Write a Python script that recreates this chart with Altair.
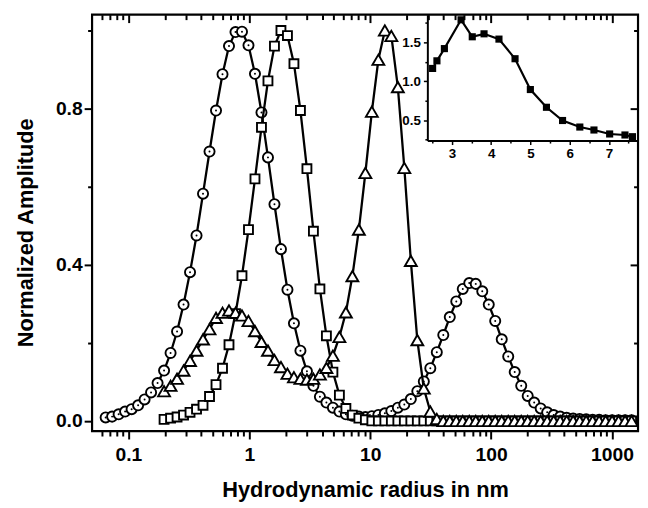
import altair as alt
import pandas as pd

FONT = "Liberation Sans"

# hydrodynamic radius grid (nm)
radius_nm = [0.0649, 0.0734, 0.0831, 0.0940, 0.1064, 0.1204, 0.1362, 0.1541, 0.1744, 0.1974,
             0.2234, 0.2528, 0.2860, 0.3236, 0.3662, 0.4144, 0.4690, 0.5307, 0.6005, 0.6796,
             0.7691, 0.8703, 0.9849, 1.1145, 1.2612, 1.4272, 1.6151, 1.8277, 2.0683, 2.3405,
             2.6485, 2.9972, 3.3915, 3.838, 4.343, 4.915, 5.562, 6.294, 7.122, 8.060,
             9.120, 10.32, 11.68, 13.22, 14.96, 16.93, 19.15, 21.68, 24.53, 27.76,
             31.41, 35.54, 40.22, 45.52, 51.51, 58.29, 65.96, 74.65, 84.47, 95.6,
             108.1, 122.4, 138.5, 156.7, 177.4, 200.7, 227.1, 257.0, 290.9, 329.2,
             372.4, 421.5, 477.0, 539.7, 610.8, 691.2, 782.2, 885.1, 1001.4, 1133,
             1282, 1451]

circles = [0.009, 0.011, 0.017, 0.024, 0.030, 0.040, 0.055, 0.073, 0.097, 0.129,
           0.174, 0.229, 0.298, 0.381, 0.475, 0.582, 0.690, 0.795, 0.888, 0.960,
           0.996, 0.997, 0.962, 0.889, 0.790, 0.675, 0.555, 0.440, 0.336, 0.250,
           0.180, 0.127, 0.090, 0.062, 0.047, 0.034, 0.024, 0.017, 0.013, 0.011,
           0.010, 0.012, 0.0154, 0.0195, 0.0253, 0.034, 0.042, 0.056, 0.076, 0.101,
           0.135, 0.176, 0.220, 0.266, 0.306, 0.338, 0.353, 0.351, 0.332, 0.298,
           0.256, 0.209, 0.165, 0.125, 0.090, 0.064, 0.047, 0.032, 0.022, 0.015,
           0.011, 0.008, 0.006, 0.005, 0.004, 0.003, 0.003, 0.002, 0.002, 0.002,
           0.002, 0.002]

squares = [None] * 9 + [
           0.004, 0.007, 0.010, 0.015, 0.022, 0.030, 0.040, 0.0625, 0.093, 0.135,
           0.195, 0.275, 0.372, 0.490, 0.620, 0.752, 0.871, 0.960, 1.000, 0.987,
           0.915, 0.795, 0.646, 0.486, 0.338, 0.218, 0.125, 0.066, 0.032, 0.015,
           0.007, 0.003, 0.0, 0.0, 0.0, 0.0, 0.0, 0.0, 0.0, 0.0,
           0.0, 0.0, 0.0, 0.0, 0.0, 0.0, 0.0, 0.0, 0.0, 0.0,
           0.0, 0.0, 0.0, 0.0, 0.0, 0.0, 0.0, 0.0, 0.0, 0.0,
           0.0, 0.0, 0.0, 0.0, 0.0, 0.0, 0.0, 0.0, 0.0, 0.0,
           0.0, 0.0, 0.0]

triangles = [None] * 9 + [
           0.076, 0.090, 0.108, 0.129, 0.154, 0.180, 0.209, 0.235, 0.264, 0.277,
           0.283, 0.277, 0.270, 0.256, 0.230, 0.2025, 0.180, 0.156, 0.138, 0.121,
           0.112, 0.108, 0.106, 0.108, 0.119, 0.136, 0.167, 0.215, 0.278, 0.371,
           0.490, 0.635, 0.792, 0.925, 1.000, 0.986, 0.855, 0.648, 0.410, 0.207,
           0.083, 0.024, 0.005, 0.0, 0.0, 0.0, 0.0, 0.0, 0.0, 0.0,
           0.0, 0.0, 0.0, 0.0, 0.0, 0.0, 0.0, 0.0, 0.0, 0.0,
           0.0, 0.0, 0.0, 0.0, 0.0, 0.0, 0.0, 0.0, 0.0, 0.0,
           0.0, 0.0, 0.0]

inset_x = [2.51, 2.62, 2.81, 3.235, 3.52, 3.82, 4.20, 4.61, 5.00, 5.41, 5.82, 6.26, 6.62, 7.02, 7.41, 7.60]
inset_y = [1.165, 1.263, 1.42, 1.79, 1.572, 1.61, 1.542, 1.29, 0.894, 0.666, 0.496, 0.412, 0.374, 0.323, 0.31, 0.288]

x_ticks = [0.06, 0.07, 0.08, 0.09,
           0.1, 0.2, 0.3, 0.4, 0.5, 0.6, 0.7, 0.8, 0.9,
           1, 2, 3, 4, 5, 6, 7, 8, 9,
           10, 20, 30, 40, 50, 60, 70, 80, 90,
           100, 200, 300, 400, 500, 600, 700, 800, 900,
           1000]
y_ticks = [0.0, 0.2, 0.4, 0.6, 0.8, 1.0]
inset_x_ticks = [2.5, 3, 3.5, 4, 4.5, 5, 5.5, 6, 6.5, 7, 7.5]
inset_y_ticks = [0.25, 0.5, 0.75, 1.0, 1.25, 1.5, 1.75]

W, H = 552, 421


def series_df(vals):
    rows = [(r, v) for r, v in zip(radius_nm, vals) if v is not None]
    return pd.DataFrame(rows, columns=["r", "a"])


df_c = series_df(circles)
df_s = series_df(squares)
df_t = series_df(triangles)
df_in = pd.DataFrame({"x": inset_x, "y": inset_y})

MAJX = "abs(log(datum.value)/LN10 - round(log(datum.value)/LN10)) < 0.01"
MAJY = "abs(datum.value*2.5 - round(datum.value*2.5)) < 0.01"
MAJIX = "abs(datum.value - round(datum.value)) < 0.01"
MAJIY = "abs(datum.value*2 - round(datum.value*2)) < 0.01"

xscale = alt.Scale(type="log", domain=[0.0501, 1640], nice=False)
yscale = alt.Scale(domain=[-0.026, 1.0405], nice=False, zero=False)

x_axis = alt.Axis(orient="bottom", values=x_ticks, domain=False, grid=False,
                  tickColor="black", tickWidth=2,
                  tickSize={"condition": {"test": MAJX, "value": 8}, "value": 5},
                  format="~g", labelExpr=f"({MAJX}) ? datum.label : ''",
                  labelFont=FONT, labelFontSize=19.5, labelFontWeight="bold",
                  labelColor="black", labelPadding=7, labelOverlap=False, labelFlush=False,
                  title="Hydrodynamic radius in nm", titleFont=FONT, titleFontSize=22,
                  titleFontWeight="bold", titleColor="black",
                  titleBaseline="alphabetic", titleY=66, titleX=W / 2)
y_axis = alt.Axis(orient="left", values=y_ticks, domain=False, grid=False,
                  tickColor="black", tickWidth=2,
                  tickSize={"condition": {"test": MAJY, "value": 8}, "value": 4.5},
                  labelExpr=f"({MAJY}) ? format(datum.value, '.1f') : ''",
                  labelFont=FONT, labelFontSize=19.5, labelFontWeight="bold",
                  labelColor="black", labelPadding=2, labelOverlap=False, labelFlush=False,
                  title="Normalized Amplitude", titleFont=FONT, titleFontSize=22,
                  titleFontWeight="bold", titleColor="black",
                  titleBaseline="alphabetic", titleX=-60, titleY=220, titleAngle=270)

X = alt.X("r:Q", scale=xscale, axis=x_axis)
Y = alt.Y("a:Q", scale=yscale, axis=y_axis)

LW = 2.3
MSW = 1.9


def line(df):
    return alt.Chart(df).mark_line(color="black", strokeWidth=LW).encode(x=X, y=Y)


c_pts = alt.Chart(df_c).mark_point(shape="circle", size=105, filled=True, fill="white",
                                   stroke="black", strokeWidth=MSW, opacity=1).encode(x=X, y=Y)
c_dot = alt.Chart(df_c).mark_point(shape="circle", size=4, filled=True, color="black",
                                   opacity=1).encode(x=X, y=Y)
s_pts = alt.Chart(df_s).mark_point(shape="square", size=82, filled=True, fill="white",
                                   stroke="black", strokeWidth=MSW, opacity=1).encode(x=X, y=Y)
t_pts = alt.Chart(df_t).mark_point(shape="triangle-up", size=145, filled=True, fill="white",
                                   stroke="black", strokeWidth=MSW, opacity=1).encode(x=X, y=Y)

main = alt.layer(line(df_c), c_pts, c_dot, line(df_s), s_pts, line(df_t), t_pts)

# mirrored inward ticks on top and right
mx_axis = alt.Axis(orient="bottom", offset=-H, values=x_ticks, domain=False, grid=False,
                   labels=False, title=None, tickColor="black", tickWidth=2,
                   tickSize={"condition": {"test": MAJX, "value": 8}, "value": 5})
my_axis = alt.Axis(orient="left", offset=-W, values=y_ticks, domain=False, grid=False,
                   labels=False, title=None, tickColor="black", tickWidth=2,
                   tickSize={"condition": {"test": MAJY, "value": 8}, "value": 4.5})
mirror = alt.Chart(df_c).mark_point(opacity=0).encode(
    x=alt.X("r:Q", scale=xscale, axis=mx_axis),
    y=alt.Y("a:Q", scale=yscale, axis=my_axis))

# inset
IX0, IX1 = 339, 551.5
IYB = 127.3
ixscale = alt.Scale(domain=[2.376, 7.73], range=[IX0, IX1], nice=False, zero=False)
iyscale = alt.Scale(domain=[0.238, 1.856], range=[IYB, 0], nice=False, zero=False)
ix_axis = alt.Axis(orient="bottom", offset=IYB - H, values=inset_x_ticks, grid=False,
                   domain=True, domainColor="black", domainWidth=2,
                   tickColor="black", tickWidth=1.5,
                   tickSize={"condition": {"test": MAJIX, "value": 4}, "value": 2.5},
                   labelExpr=f"({MAJIX}) ? format(datum.value, 'd') : ''",
                   labelFont=FONT, labelFontSize=13.5, labelFontWeight="bold", labelColor="black",
                   labelPadding=2, labelOverlap=False, labelFlush=False, title=None)
iy_axis = alt.Axis(orient="left", offset=-IX0, values=inset_y_ticks, grid=False,
                   domain=True, domainColor="black", domainWidth=2,
                   tickColor="black", tickWidth=1.5,
                   tickSize={"condition": {"test": MAJIY, "value": 4}, "value": 2.5},
                   labelExpr=f"({MAJIY}) ? format(datum.value, '.1f') : ''",
                   labelFont=FONT, labelFontSize=13.5, labelFontWeight="bold", labelColor="black",
                   labelPadding=3, labelOverlap=False, labelFlush=False, title=None)
IXe = alt.X("x:Q", scale=ixscale, axis=ix_axis)
IYe = alt.Y("y:Q", scale=iyscale, axis=iy_axis)
inset = alt.layer(
    alt.Chart(df_in).mark_line(color="black", strokeWidth=2.2).encode(x=IXe, y=IYe),
    alt.Chart(df_in).mark_point(shape="square", size=52, filled=True, color="black",
                                opacity=1).encode(x=IXe, y=IYe),
)

chart = alt.layer(main, mirror, inset).resolve_scale(
    x="independent", y="independent").resolve_axis(x="independent", y="independent").properties(
    width=W, height=H, autosize="none",
    padding={"left": 85, "top": 4, "right": 2, "bottom": 72},
    background="white",
).configure_view(stroke="black", strokeWidth=2.2)

chart.save("out.html", embed_options={"renderer": "svg", "actions": False})
